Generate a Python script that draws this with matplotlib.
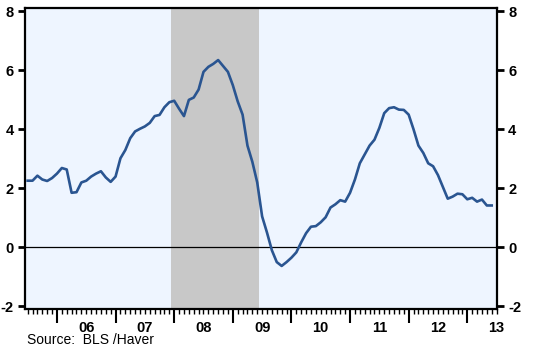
import matplotlib
matplotlib.use('Agg')
import matplotlib.pyplot as plt
from matplotlib.ticker import FixedLocator, FuncFormatter, NullFormatter

plt.rcParams['font.family'] = ['Liberation Sans', 'DejaVu Sans']
plt.rcParams['axes.unicode_minus'] = False

# monthly series, Jul 2005 .. Jun 2013
FIRST_MONTH = 2005.5
VALUES = [2.26, 2.26, 2.43, 2.30, 2.25, 2.35,
          2.50, 2.69, 2.64, 1.85, 1.87, 2.20, 2.26, 2.40, 2.50, 2.58, 2.37, 2.22,
          2.40, 3.02, 3.30, 3.70, 3.93, 4.02, 4.10, 4.22, 4.45, 4.49, 4.75, 4.92,
          4.97, 4.70, 4.45, 5.00, 5.08, 5.35, 5.95, 6.12, 6.22, 6.35, 6.15, 5.95,
          5.50, 4.95, 4.50, 3.45, 2.90, 2.20, 1.05, 0.50, -0.10, -0.50, -0.63, -0.50,
          -0.35, -0.17, 0.17, 0.48, 0.70, 0.72, 0.85, 1.02, 1.35, 1.46, 1.60, 1.55,
          1.85, 2.30, 2.85, 3.15, 3.45, 3.65, 4.05, 4.55, 4.72, 4.75, 4.67, 4.66,
          4.50, 4.00, 3.45, 3.20, 2.85, 2.75, 2.45, 2.05, 1.65, 1.72, 1.82, 1.80,
          1.63, 1.68, 1.55, 1.62, 1.42, 1.42]
DATES = [FIRST_MONTH + i / 12 for i in range(len(VALUES))]

RECESSION = (2007.95, 2009.45)
YEARS = list(range(2006, 2014))
Y_TICKS = [-2, 0, 2, 4, 6, 8]
SOURCE = 'Source:  BLS /Haver'

fig = plt.figure(figsize=(5.33, 3.54), dpi=100)
ax = fig.add_axes([25 / 533, 1 - 309 / 354, 472 / 533, 301 / 354])
ax.set_facecolor('#EEF5FF')

ax.axvspan(RECESSION[0], RECESSION[1], color='#C8C8C8', lw=0, zorder=1)
ax.axhline(0, color='black', lw=0.9, zorder=2)
ax.plot(DATES, VALUES, color='#2A5591', lw=1.9, zorder=3)

ax.set_xlim(2005.455, 2013.507)
ax.set_ylim(-2.09, 8.115)

# year boundaries = major ticks, months = minor ticks, labels at mid-year
ax.xaxis.set_major_locator(FixedLocator(YEARS))
ax.xaxis.set_major_formatter(NullFormatter())
months = [2005 + m / 12 for m in range(6, 8 * 12 + 7)]
ax.xaxis.set_minor_locator(FixedLocator(months))


def year_label(x, pos):
    for y in YEARS:
        if abs(x - (y + 0.5)) < 0.01:
            return '%02d' % (y % 100)
    return ''


ax.xaxis.set_minor_formatter(FuncFormatter(year_label))
ax.tick_params(axis='x', which='major', direction='out', length=10, width=1.5)
ax.tick_params(axis='x', which='minor', direction='out', length=3.5, width=1.0,
               pad=5.5, labelsize=10.5)

ax.set_yticks(Y_TICKS)
ax.tick_params(axis='y', direction='out', length=5, width=2, pad=3,
               left=True, right=True, labelleft=True, labelright=True, labelsize=10.5)

for lbl in ax.get_xticklabels(minor=True):
    lbl.set_fontweight('bold')
for t in ax.yaxis.get_major_ticks():
    t.label1.set_fontweight('bold')
    t.label2.set_fontweight('bold')

for s in ax.spines.values():
    s.set_linewidth(1.6)

fig.text(27 / 533, 1 - 340 / 354, SOURCE, fontsize=10, va='center', ha='left')

plt.savefig('out.png', dpi=100)
